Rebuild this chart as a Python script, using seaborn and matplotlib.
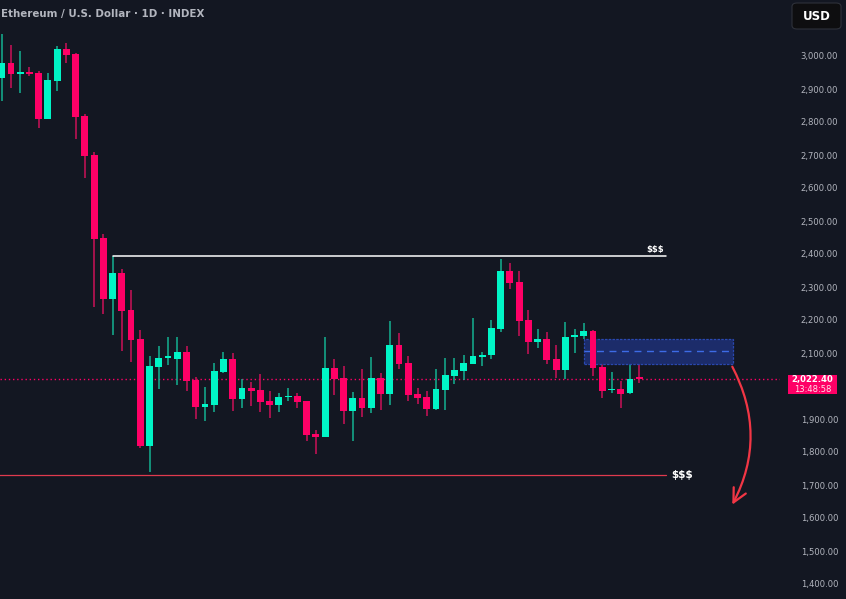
import matplotlib
matplotlib.use("Agg")
import matplotlib.pyplot as plt
from matplotlib.patches import Rectangle, FancyBboxPatch, FancyArrowPatch
import seaborn as sns
import numpy as np
import pandas as pd

# ---------------- data ----------------
opens = [2934, 2979, 2946, 2951, 2948, 2810, 2925, 3021, 3006, 2818,
         2700, 2448, 2264, 2342, 2230, 2142, 1819, 2058, 2086, 2083,
         2103, 2018, 1937, 1943, 2043, 2082, 1961, 1994, 1988, 1954,
         1943, 1967, 1970, 1954, 1854, 1846, 2054, 2024, 1925, 1964,
         1934, 2024, 1977, 2124, 2070, 1977, 1968, 1931, 1989, 2031,
         2046, 2068, 2088, 2094, 2174, 2348, 2315, 2200, 2134, 2142,
         2082, 2049, 2148, 2152, 2167, 2058, 1987, 1991, 1980, 2024]
highs = [3067, 3033, 3015, 2967, 2954, 2948, 3030, 3039, 3009, 2824,
         2709, 2460, 2394, 2354, 2291, 2170, 2091, 2121, 2148, 2148,
         2121, 2027, 1997, 2070, 2103, 2100, 2021, 2012, 2036, 1985,
         1979, 1994, 1979, 1954, 1867, 2148, 2082, 2061, 1982, 2051,
         2088, 2039, 2197, 2161, 2091, 1995, 1986, 2052, 2086, 2086,
         2094, 2206, 2103, 2200, 2385, 2373, 2348, 2230, 2173, 2164,
         2124, 2194, 2173, 2191, 2170, 2074, 2042, 2015, 2082, 2088]
lows = [2865, 2904, 2889, 2940, 2783, 2810, 2895, 2980, 2749, 2631,
        2239, 2219, 2155, 2107, 2074, 1813, 1740, 1992, 2064, 2004,
        1986, 1901, 1895, 1922, 2040, 1925, 1934, 1940, 1922, 1904,
        1922, 1955, 1934, 1834, 1795, 1846, 1973, 1886, 1834, 1907,
        1919, 1928, 1943, 2052, 1955, 1946, 1910, 1928, 1928, 2007,
        2019, 2068, 2061, 2083, 2164, 2295, 2152, 2098, 2116, 2068,
        2025, 2022, 2101, 2142, 2031, 1965, 1980, 1934, 1977, 2009]
closes = [2979, 2946, 2951, 2946, 2810, 2927, 3021, 3004, 2816, 2698,
          2446, 2264, 2342, 2227, 2140, 1819, 2061, 2085, 2089, 2103,
          2016, 1937, 1946, 2045, 2082, 1961, 1994, 1986, 1952, 1943,
          1967, 1970, 1952, 1852, 1846, 2054, 2021, 1925, 1964, 1934,
          2024, 1977, 2124, 2068, 1974, 1965, 1931, 1992, 2033, 2048,
          2070, 2091, 2094, 2176, 2348, 2313, 2198, 2134, 2142, 2080,
          2049, 2148, 2155, 2167, 2055, 1986, 1992, 1977, 2021, 2022.4]

yticks = [1400, 1500, 1600, 1700, 1800, 1900, 2100, 2200, 2300,
          2400, 2500, 2600, 2700, 2800, 2900, 3000]
ytick_labels = ["1,400.00", "1,500.00", "1,600.00", "1,700.00", "1,800.00",
                "1,900.00", "2,100.00", "2,200.00", "2,300.00",
                "2,400.00", "2,500.00", "2,600.00", "2,700.00", "2,800.00",
                "2,900.00", "3,000.00"]

title = "Ethereum / U.S. Dollar \u00b7 1D \u00b7 INDEX"
last_price = 2022.40
last_price_label = "2,022.40"
countdown = "13:48:58"
upper_liq = 2394
upper_liq_start = 12
lower_liq = 1730
zone_low, zone_high, zone_mid = 2066, 2142, 2105
zone_start = 63
arrow_start, arrow_end = 2066, 1633

# ---------------- style ----------------
BG = "#131722"
GREEN = "#00f5c6"
RED = "#ff0066"
GREEN_WICK = "#14b292"
RED_WICK = "#cc1158"
TXT = "#b2b5be"

sns.set_theme(style="dark", rc={"axes.facecolor": BG, "figure.facecolor": BG})
plt.rcParams["font.family"] = ["DejaVu Sans"]

df = pd.DataFrame({"open": opens, "high": highs, "low": lows, "close": closes})
df["idx"] = np.arange(len(df))
df["up"] = df["close"] >= df["open"]
df["bottom"] = df[["open", "close"]].min(axis=1)
df["height"] = (df["close"] - df["open"]).abs().clip(lower=3.5)

W, H = 846, 599
fig = plt.figure(figsize=(W / 100, H / 100), dpi=100)
ax = fig.add_axes([0, 0, 780 / W, 1])
ax.set_facecolor(BG)

spacing = 9.24
x0 = 1.7
ax.set_xlim((0 - x0) / spacing, (780 - x0) / spacing)
ppx = 100 / 33.0
ax.set_ylim(1400 - (H - 584) * ppx, 3000 + 56 * ppx)

# wicks
for up, wc in [(True, GREEN_WICK), (False, RED_WICK)]:
    sub = df[df["up"] == up]
    ax.vlines(sub["idx"], sub["low"], sub["high"], color=wc, lw=1.1, zorder=2)
# bodies
for up, bc in [(True, GREEN), (False, RED)]:
    sub = df[df["up"] == up]
    ax.bar(sub["idx"], sub["height"], bottom=sub["bottom"], width=0.74,
           color=bc, linewidth=0, zorder=3)

# liquidity lines
x_end = (666 - x0) / spacing
ax.plot([upper_liq_start, x_end], [upper_liq, upper_liq], color="white", lw=1.1, zorder=4)
ax.text(x_end - 0.2, upper_liq + 6, "$$$", color="white", fontsize=6, fontweight="bold",
        ha="right", va="bottom", zorder=5)
ax.plot([-1, x_end], [lower_liq, lower_liq], color="#e03a4e", lw=0.9, zorder=4)
ax.text(x_end + 0.6, lower_liq, "$$$", color="white", fontsize=7.5, fontweight="bold",
        ha="left", va="center", zorder=5)

# current price dotted line
ax.axhline(last_price, color=RED, lw=1.0, ls=(0, (1, 2)), zorder=1)

# zone box
zone_end = (733 - x0) / spacing
ax.add_patch(Rectangle((zone_start, zone_low), zone_end - zone_start, zone_high - zone_low,
                       facecolor="#1c2c6a", edgecolor="#2a48b0", lw=0.9, ls=(0, (2, 1)),
                       zorder=2.5))
ax.plot([zone_start, zone_end], [zone_mid, zone_mid], color="#3d6be6", lw=1.0,
        ls=(0, (5, 4)), zorder=2.6)

# arrow
ax_x = (731 - x0) / spacing
arr = FancyArrowPatch((ax_x, arrow_start), (ax_x, arrow_end),
                      connectionstyle="arc3,rad=-0.27",
                      arrowstyle="->,head_length=0.7,head_width=0.35",
                      mutation_scale=14, color="#f23645", lw=1.6, zorder=5)
ax.add_patch(arr)

# axis
ax.set_xticks([])
ax.yaxis.tick_right()
ax.set_yticks(yticks)
ax.set_yticklabels(ytick_labels)
ax.tick_params(axis="y", length=0, pad=15, labelsize=6.1, labelcolor=TXT)
for lbl in ax.get_yticklabels():
    lbl.set_horizontalalignment("left")
for s in ax.spines.values():
    s.set_visible(False)
ax.grid(False)

# title
fig.text(1 / W, 1 - 14 / H, title, color=TXT, fontsize=7.4, fontweight="bold",
         ha="left", va="center")

# price label
fig.patches.append(Rectangle((788 / W, 1 - 394 / H), 49 / W, 19 / H,
                             transform=fig.transFigure, facecolor=RED,
                             edgecolor="none", zorder=10))
fig.text(812.5 / W, 1 - 379.8 / H, last_price_label, color="white", fontsize=6.1,
         fontweight="bold", ha="center", va="center", zorder=11)
fig.text(812.5 / W, 1 - 389.2 / H, countdown, color="#ffe0ea", fontsize=6.0,
         ha="center", va="center", zorder=11)

# USD button
fig.patches.append(FancyBboxPatch((792 / W, 1 - 29 / H), 49 / W, 26 / H,
                                  boxstyle="round,pad=0,rounding_size=0.006",
                                  transform=fig.transFigure, facecolor="#0e0e10",
                                  edgecolor="#2e313a", lw=0.8, zorder=10))
fig.text(816.5 / W, 1 - 16 / H, "USD", color="white", fontsize=8.5, fontweight="bold",
         ha="center", va="center", zorder=11)

fig.savefig("out.png", dpi=100, facecolor=BG)
